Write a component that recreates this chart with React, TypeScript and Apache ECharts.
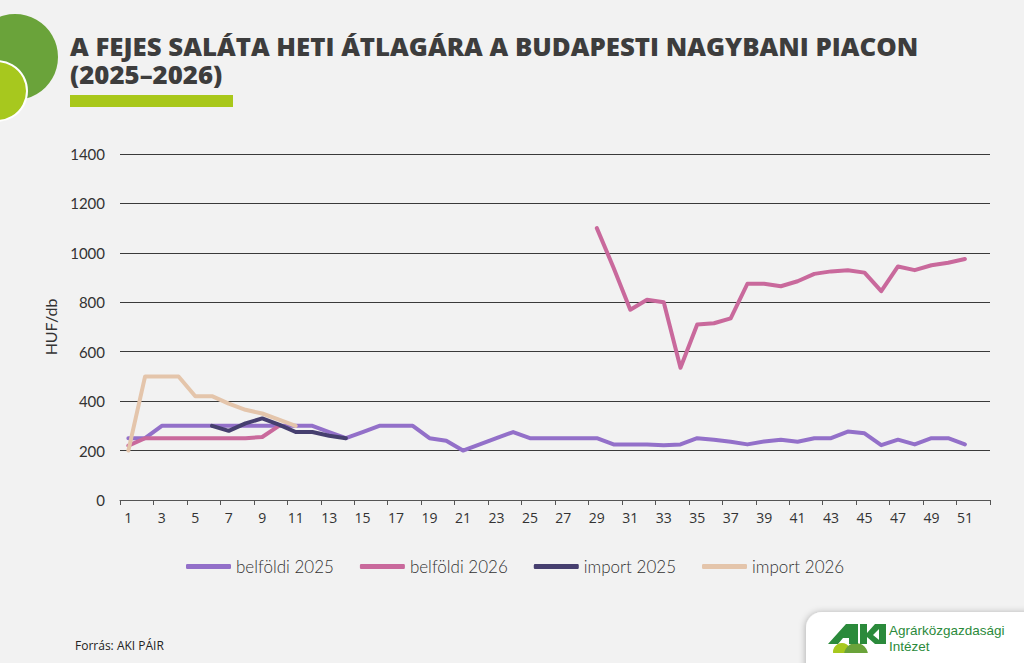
import React, { useEffect, useRef } from "react";
import * as echarts from "echarts";

const weeks: string[] = Array.from({ length: 52 }, (_, i) => String(i + 1));

const belfoldi2025: (number | null)[] = [
  250, 250, 300, 300, 300, 300, 300, 300, 300, 300,
  300, 300, 275, 250, 275, 300, 300, 300, 250, 240,
  200, 225, 250, 275, 250, 250, 250, 250, 250, 225,
  225, 225, 222, 225, 250, 244, 236, 225, 237, 244,
  236, 250, 250, 277, 270, 222, 244, 225, 250, 250,
  225, null,
];

const belfoldi2026: (number | null)[] = [
  220, 250, 250, 250, 250, 250, 250, 250, 255, 300,
  null, null, null, null, null, null, null, null, null, null,
  null, null, null, null, null, null, null, null, 1100, 940,
  770, 810, 800, 535, 710, 715, 735, 875, 875, 865,
  885, 915, 925, 930, 920, 845, 945, 930, 950, 960,
  975, null,
];

const import2025: (number | null)[] = [
  null, null, null, null, null, 300, 280, 310, 330, 305,
  275, 275, 260, 250, null, null, null, null, null, null,
  null, null, null, null, null, null, null, null, null, null,
  null, null, null, null, null, null, null, null, null, null,
  null, null, null, null, null, null, null, null, null, null,
  null, null,
];

const import2026: (number | null)[] = [
  200, 500, 500, 500, 420, 420, 390, 365, 350, 325,
  300, null, null, null, null, null, null, null, null, null,
  null, null, null, null, null, null, null, null, null, null,
  null, null, null, null, null, null, null, null, null, null,
  null, null, null, null, null, null, null, null, null, null,
  null, null,
];

const seriesNames = ["belföldi 2025", "belföldi 2026", "import 2025", "import 2026"];
const seriesColors = ["#9370c9", "#c9699c", "#463f6f", "#e4c5ab"];
const seriesData = [belfoldi2025, belfoldi2026, import2025, import2026];

const titleText = "A FEJES SALÁTA HETI ÁTLAGÁRA A BUDAPESTI NAGYBANI PIACON\n(2025–2026)";
const sourceText = "Forrás: AKI PÁIR";

export default function App() {
  const ref = useRef<HTMLDivElement>(null);
  useEffect(() => {
    if (!ref.current) return;
    const chart = echarts.init(ref.current, null, { renderer: "svg" });
    const green = "#2b8a3b";
    chart.setOption({
      animation: false,
      backgroundColor: "#f2f2f2",
      grid: { left: 120, right: 34, top: 154, bottom: 163, containLabel: false },
      legend: {
        left: 181,
        top: 553,
        itemWidth: 45,
        itemHeight: 5,
        itemGap: 26,
        icon: "roundRect",
        textStyle: { fontFamily: "Lato", fontWeight: 300, fontSize: 17, color: "#333" },
        data: seriesNames,
      },
      xAxis: {
        type: "category",
        data: weeks,
        boundaryGap: true,
        axisLine: { lineStyle: { color: "#555", width: 1 } },
        axisTick: { show: true, length: 5, lineStyle: { color: "#555" } },
        axisLabel: {
          interval: 1,
          fontFamily: "Open Sans",
          fontSize: 14,
          color: "#333",
          margin: 10,
        },
      },
      yAxis: {
        type: "value",
        min: 0,
        max: 1400,
        interval: 200,
        name: "HUF/db",
        nameLocation: "middle",
        nameGap: 62,
        nameTextStyle: { fontFamily: "Lato", fontSize: 16, color: "#333" },
        axisLine: { show: false },
        axisTick: { show: false },
        axisLabel: {
          fontFamily: "Lato",
          fontSize: 15,
          color: "#333",
          margin: 15,
          formatter: (v: number) => String(v),
        },
        splitLine: { lineStyle: { color: "#3a3a3a", width: 1 } },
      },
      series: seriesNames.map((n, i) => ({
        name: n,
        type: "line",
        data: seriesData[i],
        showSymbol: false,
        symbol: "none",
        connectNulls: false,
        lineStyle: { color: seriesColors[i], width: 4, cap: "round", join: "round" },
        itemStyle: { color: seriesColors[i] },
        z: i === 2 ? 5 : 3,
      })),
      graphic: [
        { type: "circle", shape: { cx: 15, cy: 57, r: 43 }, style: { fill: "#6aa33a" }, z: 10 },
        { type: "circle", shape: { cx: -3, cy: 91, r: 30 }, style: { fill: "#a7c81e", stroke: "#ffffff", lineWidth: 2 }, z: 11 },
        {
          type: "text", x: 70, y: 32, z: 10, scaleX: 1.075, scaleY: 1,
          style: {
            text: titleText,
            font: "800 24px 'Open Sans'",
            lineHeight: 28,
            fill: "#3d3d3d",
            textVerticalAlign: "top",
          },
        },
        { type: "rect", shape: { x: 70, y: 95, width: 163, height: 12 }, style: { fill: "#a9c81b" }, z: 10 },
        {
          type: "text", x: 75, y: 645, z: 10,
          style: { text: sourceText, font: "12px 'Open Sans'", fill: "#222", textVerticalAlign: "middle" },
        },
        {
          type: "rect", z: 10,
          shape: { x: 806, y: 612, width: 240, height: 70, r: [16, 0, 0, 0] },
          style: { fill: "#ffffff", shadowBlur: 6, shadowColor: "rgba(0,0,0,0.25)", shadowOffsetX: -1, shadowOffsetY: 0 },
        },
        { type: "circle", z: 11, shape: { cx: 842, cy: 652, r: 9 }, style: { fill: "#a7c81e" } },
        { type: "circle", z: 11, shape: { cx: 856, cy: 655, r: 12 }, style: { fill: "#6aa33a" } },
        { type: "rect", z: 12, shape: { x: 826, y: 653, width: 60, height: 12 }, style: { fill: "#ffffff" } },
        {
          type: "polygon", z: 12,
          shape: { points: [[828, 644], [846, 624], [858, 624], [858, 644], [849, 644], [849, 638], [843, 638], [838, 644]] },
          style: { fill: green },
        },
        { type: "rect", z: 12, shape: { x: 860, y: 624, width: 7, height: 20 }, style: { fill: green } },
        {
          type: "polygon", z: 12,
          shape: { points: [[867, 633], [875, 624], [884, 624], [873, 635], [884, 644], [875, 644], [867, 637]] },
          style: { fill: green },
        },
        { type: "rect", z: 12, shape: { x: 879, y: 624, width: 7, height: 20 }, style: { fill: green } },
        {
          type: "text", x: 889, y: 630, z: 12,
          style: { text: "Agrárközgazdasági", font: "13.5px 'Liberation Sans'", fill: green, textVerticalAlign: "middle" },
        },
        {
          type: "text", x: 889, y: 646, z: 12,
          style: { text: "Intézet", font: "13.5px 'Liberation Sans'", fill: green, textVerticalAlign: "middle" },
        },
      ],
    });
    return () => chart.dispose();
  }, []);
  return <div ref={ref} style={{ width: 1024, height: 663, position: "absolute", left: 0, top: 0 }} />;
}
